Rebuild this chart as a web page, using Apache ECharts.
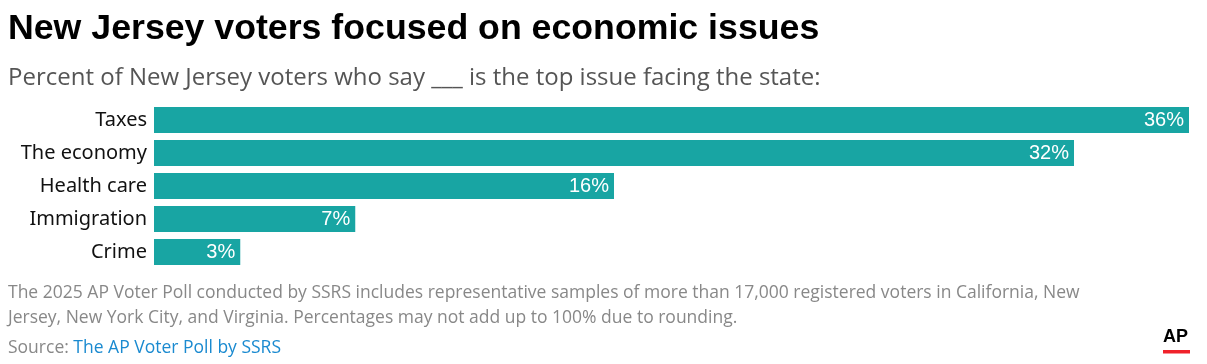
<!DOCTYPE html>
<html><head><meta charset="utf-8">
<script src="https://cdn.jsdelivr.net/npm/echarts@6/dist/echarts.min.js"></script>
<style>html,body{margin:0;padding:0;background:#fff}#c{width:1207px;height:364px}</style>
</head><body><div id="c"></div>
<script>
const categories = ["Taxes", "The economy", "Health care", "Immigration", "Crime"];
const values = [36, 32, 16, 7, 3];
const titleText = "New Jersey voters focused on economic issues";
const subtitleText = "Percent of New Jersey voters who say ___ is the top issue facing the state:";
const noteLine1 = "The 2025 AP Voter Poll conducted by SSRS includes representative samples of more than 17,000 registered voters in California, New";
const noteLine2 = "Jersey, New York City, and Virginia. Percentages may not add up to 100% due to rounding.";
const sourceLabel = "Source: ";
const sourceLink = "The AP Voter Poll by SSRS";

const chart = echarts.init(document.getElementById('c'), null, {renderer: 'canvas'});
chart.setOption({
  animation: false,
  grid: {left: 154, right: 18, top: 103.5, height: 165, containLabel: false},
  xAxis: {type: 'value', min: 0, max: 36, show: false},
  yAxis: {type: 'category', data: categories, inverse: true,
    axisLine: {show: false}, axisTick: {show: false},
    axisLabel: {color: '#111', fontSize: 20, fontFamily: 'Noto Sans', margin: 7}},
  series: [{type: 'bar', data: values, barCategoryGap: '21%',
    itemStyle: {color: '#18a5a3'},
    label: {show: true, position: 'insideRight', distance: 5, color: '#fff', fontSize: 20,
      fontFamily: 'Liberation Sans', formatter: p => p.value + '%'}}],
  graphic: [
    {type: 'text', left: 8, top: 11.5, style: {text: titleText, fontFamily: 'Liberation Sans', fontWeight: 'bold', fontSize: 35.7, fill: '#000'}},
    {type: 'text', left: 8, top: 66, style: {text: subtitleText, fontFamily: 'Open Sans', fontSize: 24, fill: '#555'}},
    {type: 'text', left: 8, top: 281, style: {text: noteLine1 + '\n' + noteLine2, fontFamily: 'Open Sans', fontSize: 17.5, lineHeight: 24.5, fill: '#888'}},
    {type: 'text', left: 8, top: 339, style: {
      text: '{a|' + sourceLabel + '}{b|' + sourceLink + '}',
      rich: {a: {fontFamily: 'Open Sans', fontSize: 17.5, fill: '#888', color: '#888'},
             b: {fontFamily: 'Open Sans', fontSize: 17.5, fill: '#1a8ad0', color: '#1a8ad0'}}}},
    {type: 'text', left: 1163, top: 328, style: {text: 'AP', fontFamily: 'Liberation Sans', fontWeight: 'bold', fontSize: 18, fill: '#000'}},
    {type: 'rect', shape: {x: 1163, y: 350, width: 27, height: 3.5}, style: {fill: '#f0212a'}}
  ]
});
</script></body></html>
